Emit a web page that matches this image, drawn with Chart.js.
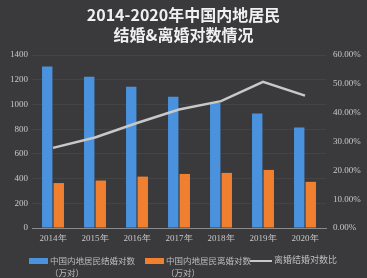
<!DOCTYPE html>
<html><head><meta charset="utf-8">
<script src="https://cdn.jsdelivr.net/npm/chart.js@4/dist/chart.umd.min.js"></script>
<style>
html,body{margin:0;padding:0;background:#3a3a3c;}
#wrap{position:relative;width:367px;height:278px;background:#3a3a3c;overflow:hidden;}
#c{position:absolute;left:0;top:0;}
.title{position:absolute;left:0;width:367px;text-align:center;color:#f0f0f0;font-family:"Noto Sans CJK SC";font-weight:bold;font-size:16px;line-height:20px;}
.leg{position:absolute;font-family:"Noto Sans CJK SC";font-size:8.5px;color:#bdbdbd;line-height:12px;white-space:nowrap;}
.sw{position:absolute;}
</style></head><body>
<div id="wrap">
<canvas id="c" width="367" height="278"></canvas>
<div class="title" style="top:4px">2014-2020年中国内地居民</div>
<div class="title" style="top:24px">结婚&amp;离婚对数情况</div>
<div class="sw" style="left:29px;top:258px;width:19px;height:6px;background:#4a92de"></div>
<div class="leg" style="left:50px;top:254px">中国内地居民结婚对数<br>（万对）</div>
<div class="sw" style="left:145px;top:258px;width:19px;height:6px;background:#f08030"></div>
<div class="leg" style="left:166px;top:254px">中国内地居民离婚对数<br>（万对）</div>
<div class="sw" style="left:250px;top:260px;width:22px;height:2px;background:#c8c8c8"></div>
<div class="leg" style="left:274px;top:254px;font-size:9px">离婚结婚对数比</div>
</div>
<script>
const categories = ['2014年','2015年','2016年','2017年','2018年','2019年','2020年'];
const marriages = [1306.7,1224.7,1142.8,1063.1,1013.9,927.3,814.3];
const divorces = [363.7,384.1,415.8,437.4,446.1,470.1,373.6];
const ratio = [27.8,31.4,36.4,41.1,44.0,50.7,45.9];

new Chart(document.getElementById('c'), {
  data: {
    labels: categories,
    datasets: [
      {type:'line', label:'离婚结婚对数比', data: ratio, yAxisID:'y1', borderColor:'#c8c8c8', borderWidth:2.5, pointRadius:0, tension:0, order:0},
      {type:'bar', label:'中国内地居民结婚对数（万对）', data: marriages, yAxisID:'y', backgroundColor:'#4a92de', categoryPercentage:0.55, barPercentage:0.9, order:1},
      {type:'bar', label:'中国内地居民离婚对数（万对）', data: divorces, yAxisID:'y', backgroundColor:'#f08030', categoryPercentage:0.55, barPercentage:0.9, order:1}
    ]
  },
  options: {
    responsive:false, animation:false,
    layout:{padding:{top:55,bottom:34,left:0,right:0}},
    plugins:{legend:{display:false}, title:{display:false}, tooltip:{enabled:false}},
    scales:{
      x:{
        grid:{display:false, drawTicks:false},
        border:{color:'#8a8a8a', width:1},
        ticks:{color:'#c8c8c8', font:{family:'Liberation Serif', size:9}, padding:5},
        afterFit:s=>{s.height=16;}
      },
      y:{
        position:'left', min:0, max:1400,
        ticks:{stepSize:200, color:'#c8c8c8', font:{family:'Liberation Serif', size:9}, padding:4, callback:v=>String(v)},
        grid:{color:'rgba(255,255,255,0.05)', drawTicks:false},
        border:{display:false},
        afterFit:s=>{s.width=32;}
      },
      y1:{
        position:'right', min:0, max:60,
        ticks:{stepSize:10, color:'#c8c8c8', font:{family:'Liberation Serif', size:9}, padding:7, callback:v=>v.toFixed(2)+'%'},
        grid:{display:false, drawTicks:false},
        border:{display:false},
        afterFit:s=>{s.width=41;}
      }
    }
  }
});
</script>
</body></html>
